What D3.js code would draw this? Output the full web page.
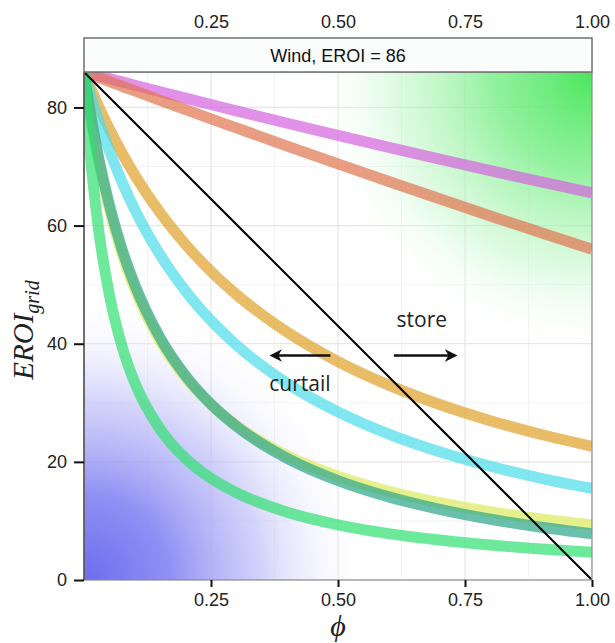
<!DOCTYPE html>
<html>
<head>
<meta charset="utf-8">
<script src="https://cdn.jsdelivr.net/npm/d3@7"></script>
<style>
  body { margin: 0; background: #fff; }
  svg { display: block; }
  .axis text { font-family: "Liberation Sans", Arial, sans-serif; font-size: 18px; fill: #222; }
  .axis path { display: none; }
  .axis line { stroke: #111; stroke-width: 2; }
</style>
</head>
<body>
<div id="chart"></div>
<script>
let w = 615;
let h = 643;

// share of output stored (phi) where each curve was read
let phi = [0, 0.01, 0.02, 0.03, 0.05, 0.075, 0.1, 0.15, 0.2, 0.25, 0.3, 0.4, 0.5, 0.6, 0.7, 0.8, 0.9, 1.0];

// EROI_grid, one list per storage curve
let violet = [86, 85.77, 85.55, 85.32, 84.87, 84.32, 83.76, 82.66, 81.57, 80.5, 79.43, 77.32, 75.26, 73.23, 71.25, 69.3, 67.39, 65.52];
let salmon = [86, 85.68, 85.35, 85.03, 84.39, 83.59, 82.79, 81.21, 79.63, 78.07, 76.53, 73.46, 70.44, 67.46, 64.53, 61.63, 58.79, 55.97];
let orange = [86, 83.89, 81.87, 79.94, 76.34, 72.25, 68.56, 62.16, 56.8, 52.25, 48.34, 41.96, 36.98, 32.98, 29.7, 26.96, 24.63, 22.64];
let cyan = [86, 82.97, 80.14, 77.49, 72.64, 67.34, 62.71, 55.03, 48.91, 43.92, 39.78, 33.3, 28.46, 24.7, 21.7, 19.25, 17.22, 15.5];
let yellow = [86, 80.07, 74.89, 70.34, 62.68, 55.15, 49.21, 40.43, 34.25, 29.68, 26.15, 21.06, 17.57, 15.02, 13.09, 11.56, 10.34, 9.32];
let teal = [86, 80.37, 75.4, 70.98, 63.48, 55.98, 49.98, 41.0, 34.58, 29.77, 26.03, 20.59, 16.83, 14.07, 11.96, 10.29, 8.94, 7.83];
let green = [86, 74.4, 65.54, 58.55, 48.24, 39.5, 33.41, 25.5, 20.58, 17.22, 14.78, 11.48, 9.35, 7.86, 6.76, 5.91, 5.24, 4.7];

let curveValues = [violet, salmon, orange, cyan, yellow, teal, green];
let curveColors = ["#d662e0", "#e0744e", "#e0a028", "#4adbea", "#dbea5b", "#2aa58a", "#2fe070"];

// curtailment line
let curtailPhi = [0, 1];
let curtailValues = [86, 0];

let xTicks = [0.25, 0.5, 0.75, 1.0];
let yTicks = [0, 20, 40, 60, 80];
let xMinor = [0.125, 0.375, 0.625, 0.875];
let yMinor = [10, 30, 50, 70];

let panelTitle = "Wind, EROI = 86";

let x_scale = d3.scaleLinear()
    .domain([0, 1])
    .range([84, 592]);

let y_scale = d3.scaleLinear()
    .domain([0, 86])
    .range([580, 72]);

let svg = d3.select("#chart")
    .append("svg")
    .attr("width", w)
    .attr("height", h);

let defs = svg.append("defs");

let pw = x_scale(1) - x_scale(0);
let ph = y_scale(0) - y_scale(86);

defs.append("clipPath")
    .attr("id", "panel")
    .append("rect")
    .attr("x", x_scale(0))
    .attr("y", y_scale(86))
    .attr("width", pw)
    .attr("height", ph);

let blue = defs.append("radialGradient")
    .attr("id", "blueGrad")
    .attr("gradientUnits", "userSpaceOnUse")
    .attr("cx", x_scale(0)).attr("cy", y_scale(0)).attr("r", 285);
blue.append("stop").attr("offset", 0).attr("stop-color", "#6c6cef").attr("stop-opacity", 1);
blue.append("stop").attr("offset", 0.3).attr("stop-color", "#8686f3").attr("stop-opacity", 0.92);
blue.append("stop").attr("offset", 0.62).attr("stop-color", "#b4b4f8").attr("stop-opacity", 0.6);
blue.append("stop").attr("offset", 1).attr("stop-color", "#ffffff").attr("stop-opacity", 0);

let grn = defs.append("radialGradient")
    .attr("id", "greenGrad")
    .attr("gradientUnits", "userSpaceOnUse")
    .attr("cx", x_scale(1)).attr("cy", y_scale(86)).attr("r", 285);
grn.append("stop").attr("offset", 0).attr("stop-color", "#4be65e").attr("stop-opacity", 1);
grn.append("stop").attr("offset", 0.35).attr("stop-color", "#78ee86").attr("stop-opacity", 0.8);
grn.append("stop").attr("offset", 0.7).attr("stop-color", "#b8f6c0").attr("stop-opacity", 0.45);
grn.append("stop").attr("offset", 1).attr("stop-color", "#ffffff").attr("stop-opacity", 0);

let panel = svg.append("g").attr("clip-path", "url(#panel)");

panel.append("rect")
    .attr("x", x_scale(0)).attr("y", y_scale(86))
    .attr("width", pw).attr("height", ph)
    .attr("fill", "#fff");

// grid
panel.selectAll(".vminor")
    .data(xMinor).enter().append("line")
    .attr("x1", d => x_scale(d)).attr("x2", d => x_scale(d))
    .attr("y1", y_scale(86)).attr("y2", y_scale(0))
    .attr("stroke", "#f3f3f3").attr("stroke-width", 1);
panel.selectAll(".hminor")
    .data(yMinor).enter().append("line")
    .attr("y1", d => y_scale(d)).attr("y2", d => y_scale(d))
    .attr("x1", x_scale(0)).attr("x2", x_scale(1))
    .attr("stroke", "#f3f3f3").attr("stroke-width", 1);
panel.selectAll(".vmajor")
    .data(xTicks).enter().append("line")
    .attr("x1", d => x_scale(d)).attr("x2", d => x_scale(d))
    .attr("y1", y_scale(86)).attr("y2", y_scale(0))
    .attr("stroke", "#e6e6e6").attr("stroke-width", 1.2);
panel.selectAll(".hmajor")
    .data(yTicks).enter().append("line")
    .attr("y1", d => y_scale(d)).attr("y2", d => y_scale(d))
    .attr("x1", x_scale(0)).attr("x2", x_scale(1))
    .attr("stroke", "#e6e6e6").attr("stroke-width", 1.2);

panel.append("rect")
    .attr("x", x_scale(0)).attr("y", y_scale(86))
    .attr("width", pw).attr("height", ph)
    .attr("fill", "url(#blueGrad)");
panel.append("rect")
    .attr("x", x_scale(0)).attr("y", y_scale(86))
    .attr("width", pw).attr("height", ph)
    .attr("fill", "url(#greenGrad)");

let line = d3.line()
    .x((d, i) => x_scale(phi[i]))
    .y(d => y_scale(d))
    .curve(d3.curveMonotoneX);

panel.selectAll(".curve")
    .data(curveValues)
    .enter()
    .append("path")
    .attr("class", "curve")
    .attr("d", d => line(d))
    .attr("fill", "none")
    .attr("stroke", (d, i) => curveColors[i])
    .attr("stroke-opacity", 0.7)
    .attr("stroke-width", 11)
    .attr("stroke-linecap", "butt");

panel.append("path")
    .attr("d", d3.line().x((d, i) => x_scale(curtailPhi[i])).y(d => y_scale(d))(curtailValues))
    .attr("fill", "none")
    .attr("stroke", "#000")
    .attr("stroke-width", 2);

// annotations
defs.append("marker")
    .attr("id", "head")
    .attr("viewBox", "0 0 10 10")
    .attr("refX", 8).attr("refY", 5)
    .attr("markerWidth", 5).attr("markerHeight", 5)
    .attr("orient", "auto-start-reverse")
    .append("path")
    .attr("d", "M0,0 L10,5 L0,10 L3,5 Z")
    .attr("fill", "#111");

svg.append("line")
    .attr("x1", x_scale(0.485)).attr("x2", x_scale(0.37))
    .attr("y1", y_scale(38)).attr("y2", y_scale(38))
    .attr("stroke", "#111").attr("stroke-width", 2.5)
    .attr("marker-end", "url(#head)");
svg.append("line")
    .attr("x1", x_scale(0.61)).attr("x2", x_scale(0.73))
    .attr("y1", y_scale(38)).attr("y2", y_scale(38))
    .attr("stroke", "#111").attr("stroke-width", 2.5)
    .attr("marker-end", "url(#head)");

svg.append("text")
    .attr("x", x_scale(0.665)).attr("y", y_scale(42.8))
    .attr("text-anchor", "middle")
    .style("font-family", "'Open Sans', sans-serif").style("font-size", "21px").style("fill", "#222")
    .text("store");
svg.append("text")
    .attr("x", x_scale(0.425)).attr("y", y_scale(32))
    .attr("text-anchor", "middle")
    .style("font-family", "'Open Sans', sans-serif").style("font-size", "21px").style("fill", "#222")
    .text("curtail");

// panel border
svg.append("rect")
    .attr("x", x_scale(0)).attr("y", y_scale(86))
    .attr("width", pw).attr("height", ph)
    .attr("fill", "none").attr("stroke", "#8a8a8a").attr("stroke-width", 1.2);
svg.append("line")
    .attr("x1", x_scale(0)).attr("x2", x_scale(0))
    .attr("y1", y_scale(86)).attr("y2", y_scale(0))
    .attr("stroke", "#555").attr("stroke-width", 1.5);

// strip
svg.append("rect")
    .attr("x", x_scale(0)).attr("y", 38)
    .attr("width", pw).attr("height", y_scale(86) - 38)
    .attr("fill", "#fbfdfd").attr("stroke", "#6f6f6f").attr("stroke-width", 1.5);
svg.append("text")
    .attr("x", (x_scale(0) + x_scale(1)) / 2).attr("y", 62)
    .attr("text-anchor", "middle")
    .style("font-family", "'Liberation Sans', Arial, sans-serif").style("font-size", "18px").style("fill", "#111")
    .text(panelTitle);

// axes
let x_axis = d3.axisBottom(x_scale)
    .tickValues(xTicks)
    .tickFormat(d3.format(".2f"))
    .tickSize(7)
    .tickPadding(6);
svg.append("g")
    .attr("class", "axis")
    .attr("transform", "translate(0," + y_scale(0) + ")")
    .call(x_axis);

let x_top = d3.axisTop(x_scale)
    .tickValues(xTicks)
    .tickFormat(d3.format(".2f"))
    .tickSize(0)
    .tickPadding(0);
svg.append("g")
    .attr("class", "axis")
    .attr("transform", "translate(0,28)")
    .call(x_top);

let y_axis = d3.axisLeft(y_scale)
    .tickValues(yTicks)
    .tickSize(10)
    .tickPadding(7);
svg.append("g")
    .attr("class", "axis")
    .attr("transform", "translate(" + x_scale(0) + ",0)")
    .call(y_axis);

// axis titles
svg.append("text")
    .attr("x", x_scale(0.5)).attr("y", 636)
    .attr("text-anchor", "middle")
    .style("font-family", "'Liberation Serif', 'DejaVu Serif', serif").style("font-style", "italic").style("font-size", "30px").style("fill", "#222")
    .text("ϕ");

let ylab = svg.append("text")
    .attr("transform", "translate(33,330) rotate(-90)")
    .attr("text-anchor", "middle")
    .style("font-family", "'Liberation Serif', 'DejaVu Serif', serif").style("font-style", "italic").style("fill", "#222");
ylab.append("tspan").style("font-size", "29px").text("EROI");
ylab.append("tspan").style("font-size", "20px").attr("dy", 6).text("grid");
</script>
</body>
</html>
